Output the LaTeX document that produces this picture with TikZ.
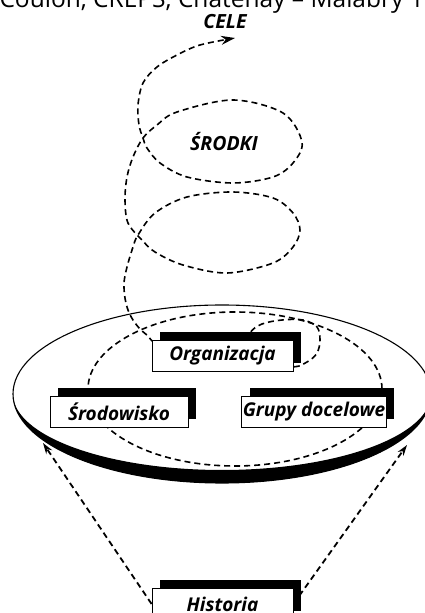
\documentclass[tikz,border=0pt]{standalone}
\usepackage{fontspec}
\setmainfont{Open Sans}
\usetikzlibrary{arrows.meta, shadows, backgrounds}

\begin{document}
\begin{tikzpicture}[
    x=1pt, y=1pt,
    box/.style={
        draw,
        fill=white,
        line width=0.8pt,
        minimum height=31pt,
        inner sep=1pt,
        font=\fontsize{19}{22}\selectfont\bfseries\itshape,
        general shadow={fill=black, shadow xshift=8pt, shadow yshift=8pt}
    },
    tag/.style={font=\fontsize{19.5}{22}\selectfont\bfseries\itshape},
    dashline/.style={line width=1.6pt, dash pattern=on 6pt off 4pt},
    dasharrow/.style={line width=1.8pt, dash pattern=on 6pt off 4pt, -{Stealth[length=11pt, width=7pt]}}
]
\useasboundingbox (0,0) rectangle (425,613);
\clip (0,0) rectangle (425,613);

% --- Disc
\coordinate (disc) at (222,219);
\draw[line width=1.1pt] (disc) ellipse [x radius=209, y radius=89];
\fill (13,219) arc[start angle=180, end angle=360, x radius=209, y radius=89]
    arc[start angle=0, end angle=-180, x radius=209, y radius=76] -- cycle;

% --- Dashed loop on the disc
\coordinate (inner) at (235,224);
\draw[dashline] (inner) ellipse [x radius=147, y radius=77];

% --- Spiral up to the goals
\draw[dashline, -{Stealth[length=14pt, width=9pt]}] plot[smooth, tension=0.55] coordinates {
    (246,262) (250,280) (262,289) (282,293) (303,293) (317,286) (320,273)
    (317,260) (307,251) (290,246) (230,250) (180,258) (155,270)
    (148,277) (140,284) (133,293) (128,303) (125,315) (124,330) (127,346)
    (133,366) (138,378) (155,400) (187,416) (233,421) (273,415) (293,400)
    (300,383) (293,366) (273,350) (227,340) (183,348) (155,361) (142,373)
    (128,390) (125,413) (127,436) (133,456) (143,475) (157,488) (177,501)
    (233,513) (283,500) (302,471) (293,450) (273,436) (233,430) (187,436)
    (160,450) (147,465) (143,475) (139,488) (138,508) (143,530) (157,546)
    (177,558) (200,568) (235,575)};

% --- Boxes
\node[box, minimum width=141pt] (org) at (222.5,257) {Organizacja};
\node[box, minimum width=138pt] (env) at (119,201.5) {Środowisko};
\node[box, minimum width=142pt] (groups) at (314,201.5) {Grupy docelowe};
\node[box, minimum width=141pt] (hist) at (222.5,9) {Historia};

% --- Historia feeds the disc
\coordinate (lefttip) at (43,170);
\coordinate (righttip) at (407,168);
\begin{scope}[on background layer]
\draw[dasharrow] (hist.west) -- (lefttip);
\draw[dasharrow] (hist.east) -- (righttip);
\end{scope}

% --- Labels
\node[tag] (means) at (224,471) {ŚRODKI};
\node[tag] (goals) at (225,591) {CELE};
\node[anchor=base west, font=\fontsize{24.5}{28}\selectfont] (source) at (-4,605.5)
    {Coulon, CREPS, Chatenay – Malabry 19};

\end{tikzpicture}
\end{document}
